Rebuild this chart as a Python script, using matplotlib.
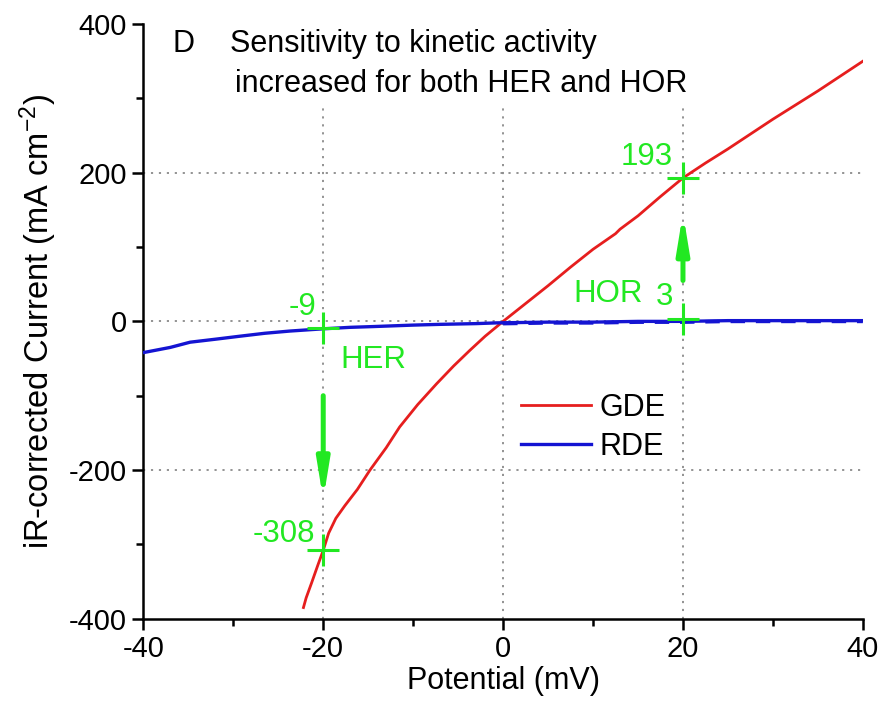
import matplotlib
matplotlib.use("Agg")
import matplotlib.pyplot as plt
from matplotlib.ticker import MultipleLocator

plt.rcParams['font.family'] = ['Liberation Sans', 'DejaVu Sans']
plt.rcParams['axes.unicode_minus'] = False
plt.rcParams['mathtext.fontset'] = 'custom'
plt.rcParams['mathtext.rm'] = 'Liberation Sans'
plt.rcParams['mathtext.it'] = 'Liberation Sans'
plt.rcParams['mathtext.default'] = 'regular'

# ---- data ----
gde_x = [-22.2, -21.9, -21.3, -20.6, -20.0, -19.4, -18.6, -17.6, -16.2, -14.8, -13.0, -11.5, -9.5,
         -7.4, -5.5, -3.7, -2.0, 0.0, 2.5, 5.0, 7.5, 10.0, 12.5, 13.0, 15.0, 17.5, 20.0,
         22.5, 25.0, 27.5, 30.0, 32.5, 35.0, 37.5, 40.0]
gde_y = [-385, -372, -352, -328, -308, -285, -265, -248, -226, -200, -170, -142, -112,
         -84, -60, -39, -20, 0, 24, 48, 73, 97, 118, 124, 142, 168, 193,
         213, 232, 252, 272, 291, 310, 330, 350]

rde_x = [-40, -37, -34.8, -32, -29.3, -26.5, -23.7, -20, -17, -14.5, -10, -7, -3, -0.7,
         5, 10, 15, 20, 25, 30, 35, 40]
rde_y = [-42, -35, -28, -24, -20, -16, -13, -10, -8, -7, -5, -4, -3, -2,
         -1, -1, 0, 0, 1, 1, 1, 1]
rde_ret_x = [0, 5, 10, 15, 20, 25, 30, 35, 40]
rde_ret_y = [-3, -2, -2, -1, -1, 0, 0, 0, 0]

marks_x = [-20, -20, 20, 20]
marks_y = [-9, -308, 193, 3]
mark_labels = ["-9", "-308", "193", "3"]

xlim = (-40, 40)
ylim = (-400, 400)
xticks = [-40, -20, 0, 20, 40]
yticks = [-400, -200, 0, 200, 400]
grid_x = [-20, 0, 20]
grid_y = [-200, 0, 200]

green = '#22e822'

fig = plt.figure(figsize=(8.96, 7.10), dpi=100)
ax = fig.add_axes([0.160, 0.1286, 0.803, 0.8375])

# grid
for gy in grid_y:
    ax.plot(xlim, [gy, gy], color='#8a8a8a', lw=1.3, ls=(0, (1.2, 3.2)), zorder=1)
for gx in grid_x:
    ax.plot([gx, gx], [ylim[0], 287], color='#8a8a8a', lw=1.3, ls=(0, (1.2, 3.2)), zorder=1)

ax.plot(gde_x, gde_y, color='#e61e1e', lw=2.0, label='GDE', zorder=3)
ax.plot(rde_x, rde_y, color='#1414d2', lw=2.4, label='RDE', zorder=3)
ax.plot(rde_ret_x, rde_ret_y, color='#1414d2', lw=2.6, ls=(0, (4, 3)), zorder=3)

# markers
ax.plot(marks_x, marks_y, ls='none', marker='+', ms=23, mew=2.2, color=green, zorder=5)

fs_g = 22.5
ax.text(-20.8, 8, mark_labels[0], color=green, fontsize=fs_g, ha='right', va='baseline')
ax.text(-20.9, -297, mark_labels[1], color=green, fontsize=fs_g, ha='right', va='baseline')
ax.text(18.9, 210, mark_labels[2], color=green, fontsize=fs_g, ha='right', va='baseline')
ax.text(18.9, 21.5, mark_labels[3], color=green, fontsize=fs_g, ha='right', va='baseline')
ax.text(-18.1, -63, "HER", color=green, fontsize=fs_g, ha='left', va='baseline')
ax.text(7.8, 25.6, "HOR", color=green, fontsize=fs_g, ha='left', va='baseline')

arrow_kw = dict(arrowstyle='-|>,head_length=2.2,head_width=0.36', color=green, lw=3.6,
                shrinkA=0, shrinkB=0)
ax.annotate('', xy=(-20, -240), xytext=(-20, -100), arrowprops=arrow_kw, zorder=6)
ax.annotate('', xy=(20, 146), xytext=(20, 55), arrowprops=arrow_kw, zorder=6)

# title text
fs_t = 22
ax.text(-36.8, 362, "D", fontsize=fs_t, ha='left', va='baseline')
ax.text(-30.4, 362, "Sensitivity to kinetic activity", fontsize=fs_t, ha='left', va='baseline')
ax.text(-29.8, 308, "increased for both HER and HOR", fontsize=fs_t, ha='left', va='baseline')

ax.set_xlim(*xlim)
ax.set_ylim(*ylim)
ax.set_xticks(xticks)
ax.set_yticks(yticks)
ax.xaxis.set_minor_locator(MultipleLocator(10))
ax.yaxis.set_minor_locator(MultipleLocator(100))
ax.tick_params(which='major', direction='out', length=8, width=1.8, labelsize=21, pad=4)
ax.tick_params(which='minor', direction='out', length=5, width=1.8)
for s in ['top', 'right']:
    ax.spines[s].set_visible(False)
for s in ['left', 'bottom']:
    ax.spines[s].set_linewidth(1.8)

ax.set_xlabel("Potential (mV)", fontsize=22, labelpad=2)
ax.set_ylabel("iR-corrected Current (mA cm$^{-2}$)", fontsize=23.5, labelpad=7)

leg = ax.legend(loc='center left', bbox_to_anchor=(0.525, 0.322), frameon=False, fontsize=22,
                handlelength=2.3, handletextpad=0.26, labelspacing=0.3,
                borderaxespad=0, borderpad=0)

fig.savefig("out.png", dpi=100)
